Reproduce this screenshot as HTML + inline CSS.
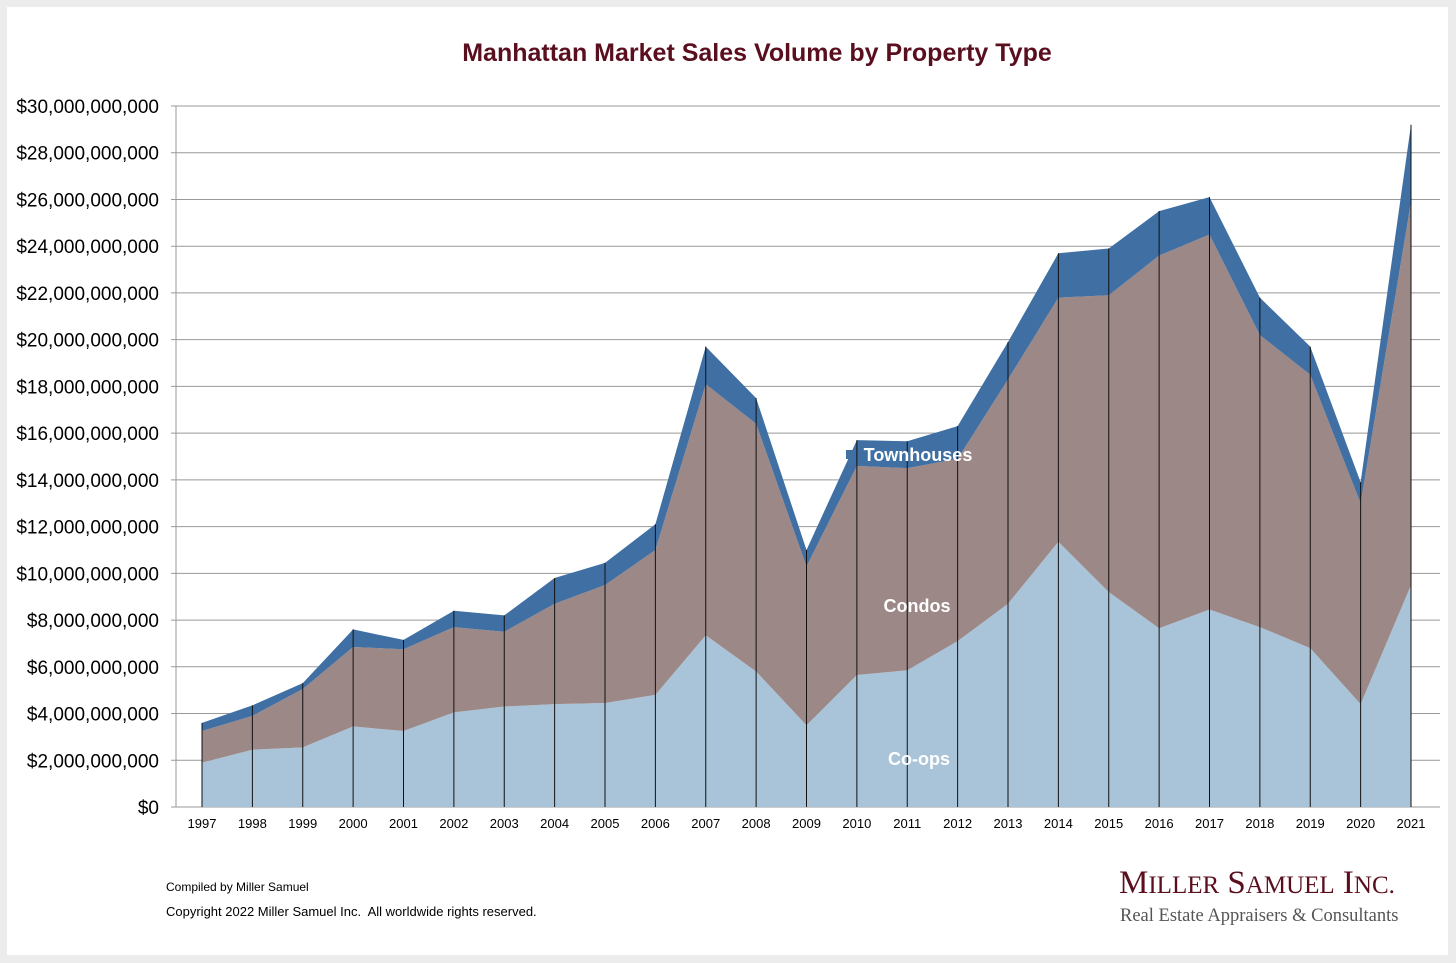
<!DOCTYPE html>
<html><head><meta charset="utf-8"><style>
body{margin:0;background:#ececec;width:1456px;height:963px;overflow:hidden;font-family:"Liberation Sans",sans-serif}
#panel{position:absolute;left:7px;top:7px;width:1441px;height:948px;background:#fff}
</style></head><body>
<div id="panel"></div>
<svg id="chart" width="1456" height="963" style="position:absolute;left:0;top:0">
<text x="757" y="61" text-anchor="middle" font-size="25" font-weight="bold" fill="#5a0f1e" font-family="Liberation Sans, sans-serif">Manhattan Market Sales Volume by Property Type</text>
<g id="grid"></g><g id="areas"></g><g id="vlines"></g><g id="axes"></g><g id="labels"></g>
<text x="166" y="891" font-size="12" fill="#000">Compiled by Miller Samuel</text>
<text x="166" y="916" font-size="13" fill="#000" xml:space="preserve">Copyright 2022 Miller Samuel Inc.  All worldwide rights reserved.</text>
<text x="1119" y="893" font-size="33" fill="#5a0f1e" font-family="Liberation Serif, serif">M<tspan font-size="25">ILLER</tspan> S<tspan font-size="25">AMUEL</tspan> I<tspan font-size="25">NC.</tspan></text>
<text x="1120" y="921" font-size="18.5" fill="#555" font-family="Liberation Serif, serif">Real Estate Appraisers &amp; Consultants</text>
</svg>
<script>
const years=["1997","1998","1999","2000","2001","2002","2003","2004","2005","2006","2007","2008","2009","2010","2011","2012","2013","2014","2015","2016","2017","2018","2019","2020","2021"];
const coops=[1.9,2.45,2.55,3.45,3.25,4.05,4.3,4.4,4.45,4.8,7.35,5.8,3.5,5.65,5.85,7.1,8.7,11.35,9.2,7.65,8.45,7.7,6.8,4.4,9.5];
const condos=[1.35,1.45,2.5,3.4,3.5,3.65,3.2,4.3,5.05,6.2,10.75,10.6,6.8,8.95,8.65,7.8,9.6,10.45,12.7,15.95,16.05,12.5,11.7,8.6,16.4];
const townhouses=[0.35,0.45,0.25,0.75,0.4,0.7,0.7,1.1,0.95,1.1,1.6,1.1,0.7,1.1,1.15,1.4,1.6,1.9,2.0,1.9,1.6,1.6,1.2,0.9,3.3];
const yTicks=[0,2,4,6,8,10,12,14,16,18,20,22,24,26,28,30];
const NS="http://www.w3.org/2000/svg";
const X0=202,X1=1411,Y0=807,Y1=106;
const xs=i=>X0+(X1-X0)*i/(years.length-1);
const ys=v=>Y0-(Y0-Y1)*v/30;
function mk(t,a,p){const e=document.createElementNS(NS,t);for(const k in a)e.setAttribute(k,a[k]);document.getElementById(p).appendChild(e);return e;}
yTicks.forEach(v=>{
 const g=mk('line',{x1:171,x2:1440,y1:ys(v),y2:ys(v),stroke:'#999','stroke-width':1},'grid');
 
 
 const t=mk('text',{x:159,y:ys(v)+7,'text-anchor':'end','font-size':19,fill:'#000'},'axes');
 t.textContent='$'+(v===0?'0':(v*1e9).toLocaleString('en-US'));
 
 
});
const ax=mk('line',{x1:176,x2:176,y1:Y1,y2:Y0,stroke:'#999'},'axes');


const c1=coops.map((v,i)=>v), c2=coops.map((v,i)=>v+condos[i]), c3=c2.map((v,i)=>v+townhouses[i]);
function band(lo,hi,fill,name){
 let d='M'+xs(0)+','+ys(hi[0]);
 for(let i=1;i<hi.length;i++)d+='L'+xs(i)+','+ys(hi[i]);
 for(let i=lo.length-1;i>=0;i--)d+='L'+xs(i)+','+ys(lo[i]);
 const p=mk('path',{d:d+'Z',fill:fill},'areas');
 
 
}
const zero=years.map(()=>0);
band(zero,c1,'#a9c4d8','coops-area');
band(c1,c2,'#9c8887','condos-area');
band(c2,c3,'#3f6fa3','townhouses-area');
years.forEach((y,i)=>{
 const l=mk('line',{x1:xs(i),x2:xs(i),y1:Y0,y2:ys(c3[i]),stroke:'#111','stroke-width':1},'vlines');
 
 
 const t=mk('text',{x:xs(i),y:828,'text-anchor':'middle','font-size':13,fill:'#000'},'axes');
 t.textContent=y;
 
 
});
const lab=[["Townhouses",918,461,'townhouses-label'],["Condos",917,612,'condos-label'],["Co-ops",919,765,'coops-label']];
lab.forEach(a=>{
 const t=mk('text',{x:a[1],y:a[2],'text-anchor':'middle','font-size':18,'font-weight':'bold',fill:'#fff'},'labels');
 t.textContent=a[0];
 
 
});
const sq=mk('rect',{x:846,y:450,width:9,height:9,fill:'#3f6fa3'},'labels');


</script>
</body></html>
